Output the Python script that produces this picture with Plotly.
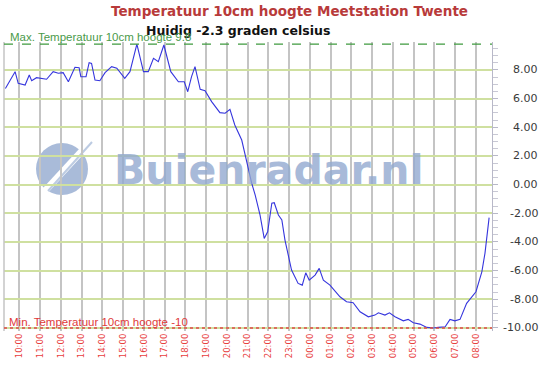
import plotly.graph_objects as go

# ---- data ----
times = ["09:20", "09:48", "09:57", "10:17", "10:29", "10:36", "10:50", "11:19", "11:38", "11:53",
         "12:07", "12:22", "12:41", "12:53", "12:58", "13:13", "13:22", "13:29", "13:39", "13:53",
         "14:08", "14:27", "14:42", "15:05", "15:20", "15:40", "15:59", "16:13", "16:28", "16:42",
         "16:58", "17:18", "17:40", "17:57", "18:07", "18:18", "18:28", "18:43", "18:57", "19:16",
         "19:40", "19:55", "20:09", "20:23", "20:43", "20:58", "21:12", "21:22", "21:36", "21:48",
         "21:58", "22:10", "22:17", "22:29", "22:39", "22:48", "23:07", "23:26", "23:38", "23:48",
         "23:58", "00:15", "00:27", "00:39", "00:58", "01:27", "01:46", "02:05", "02:25", "02:49",
         "03:08", "03:18", "03:37", "03:50", "04:06", "04:30", "04:44", "04:59", "05:18", "05:38",
         "05:57", "06:11", "06:31", "06:45", "06:59", "07:14", "07:33", "08:00", "08:17", "08:26",
         "08:38"]
temps = [6.7, 7.88, 7.07, 6.95, 7.65, 7.25, 7.46, 7.35, 7.88, 7.77,
         7.81, 7.18, 8.19, 8.16, 7.53, 7.53, 8.51, 8.46, 7.30, 7.25,
         7.81, 8.23, 8.12, 7.42, 7.88, 9.8, 7.88, 7.88, 8.81, 8.58,
         9.74, 7.88, 7.18, 7.18, 6.48, 7.53, 8.23, 6.65, 6.55, 5.79,
         5.02, 4.98, 5.25, 4.16, 3.11, 1.49, 0.09, -0.73, -2.12, -3.75,
         -3.29, -1.30, -1.26, -2.12, -2.47, -3.87, -5.96, -6.89, -7.01, -6.15,
         -6.66, -6.31, -5.84, -6.66, -7.01, -7.82, -8.17, -8.24, -8.87, -9.22,
         -9.10, -8.94, -9.10, -8.94, -9.22, -9.50, -9.40, -9.64, -9.73, -9.96,
         -10.0, -9.96, -9.92, -9.40, -9.50, -9.40, -8.28, -7.47, -6.08, -4.79,
         -2.3]
hour_labels = ["10:00", "11:00", "12:00", "13:00", "14:00", "15:00", "16:00", "17:00", "18:00",
               "19:00", "20:00", "21:00", "22:00", "23:00", "00:00", "01:00", "02:00", "03:00",
               "04:00", "05:00", "06:00", "07:00", "08:00"]
y_ticks = [8, 6, 4, 2, 0, -2, -4, -6, -8, -10]
max_temp = 9.8
min_temp = -10
current = -2.3
title = "Temperatuur 10cm hoogte Meetstation Twente"


def to_hours(s):
    hh, mm = s.split(":")
    h = int(hh) + int(mm) / 60
    return h + 24 if h < 9 else h


x = [to_hours(t) for t in times]
tick_x = [to_hours(t) for t in hour_labels]

W, H = 545, 367
L, R, T, B = 4, 492, 42, 331


def px(xp):
    return (xp - L) / (R - L)


def py(yp):
    return (B - yp) / (B - T)


fig = go.Figure()

# watermark logo
wm = "#93aad0"
shapes = [
    dict(type="circle", xref="paper", yref="paper", x0=px(36), x1=px(88), y0=py(195), y1=py(143),
         fillcolor=wm, line=dict(width=0), opacity=0.8, layer="below"),
    dict(type="line", xref="paper", yref="paper", x0=px(44), y0=py(192), x1=px(92), y1=py(140),
         line=dict(color="white", width=7), layer="below"),
    dict(type="line", xref="paper", yref="paper", x0=px(48), y0=py(191), x1=px(92), y1=py(142),
         line=dict(color="#bccbe2", width=2), layer="below"),
    # left border
    dict(type="line", xref="paper", yref="paper", x0=0, x1=0, y0=0, y1=1,
         line=dict(color="#c4c4c4", width=1.5)),
    # max / min lines
    dict(type="line", xref="paper", yref="y", x0=0, x1=1, y0=max_temp, y1=max_temp,
         line=dict(color="#3f9a3f", width=1.2, dash="dash")),
    dict(type="line", xref="paper", yref="y", x0=0, x1=1, y0=min_temp, y1=min_temp,
         line=dict(color="#e04848", width=1.5, dash="dot")),
]

fig.add_trace(go.Scatter(x=x, y=temps, mode="lines",
                         line=dict(color="#3535dd", width=1.1), hoverinfo="skip",
                         showlegend=False))

annotations = [
    dict(text="<b>" + title + "</b>", xref="paper", yref="paper", x=px(289), y=py(11),
         xanchor="center", yanchor="middle", showarrow=False,
         font=dict(family="DejaVu Sans", size=13.5, color="#b83a3a")),
    dict(text="<b>Huidig %s graden celsius</b>" % current, xref="paper", yref="paper",
         x=px(238), y=py(30), xanchor="center", yanchor="middle", showarrow=False,
         font=dict(family="DejaVu Sans", size=12.5, color="#111111")),
    dict(text="Max. Temperatuur 10cm hoogte %s" % max_temp, xref="paper", yref="paper",
         x=px(8), y=py(37), xanchor="left", yanchor="middle", showarrow=False,
         font=dict(family="Liberation Sans", size=11.5, color="#4a9a4a")),
    dict(text="Min. Temperatuur 10cm hoogte %s" % min_temp, xref="paper", yref="paper",
         x=px(7), y=py(322), xanchor="left", yanchor="middle", showarrow=False,
         font=dict(family="Liberation Sans", size=11.5, color="#e03a3a")),
    dict(text="<b>Buienradar.nl</b>", xref="paper", yref="paper", x=px(269), y=py(170),
         xanchor="center", yanchor="middle", showarrow=False, opacity=0.8,
         font=dict(family="DejaVu Sans", size=41, color=wm)),
]
for v in y_ticks:
    annotations.append(dict(text="%.2f" % v, xref="paper", yref="y", x=px(540), y=v,
                            xanchor="right", yanchor="middle", showarrow=False,
                            font=dict(family="DejaVu Sans", size=11, color="#3a3a3a")))

fig.update_layout(
    width=W, height=H,
    margin=dict(l=L, r=W - R, t=T, b=H - B),
    paper_bgcolor="white", plot_bgcolor="white",
    shapes=shapes, annotations=annotations,
    xaxis=dict(range=[11 + (L - 40) / 20.76, 11 + (R - 40) / 20.76],
               tickvals=tick_x, ticktext=hour_labels, tickangle=-90,
               tickfont=dict(family="DejaVu Sans", size=8.5, color="#e84040"),
               showgrid=True, gridcolor="#c4c4c4", gridwidth=1.5,
               zeroline=False, showline=False, ticks=""),
    yaxis=dict(range=[-10.21, 9.95], side="right", tickvals=y_ticks, showticklabels=False,
               showgrid=True, gridcolor="#cfe0a0", gridwidth=1.5, zeroline=False,
               showline=True, linecolor="#b8b8c8", linewidth=1,
               ticks="outside", ticklen=5, tickcolor="#b8b8c8",
               minor=dict(dtick=0.5, tick0=0, ticks="outside", ticklen=5, tickcolor="#c8c8d4",
                          showgrid=False)),
)

fig.write_html("out.html")
